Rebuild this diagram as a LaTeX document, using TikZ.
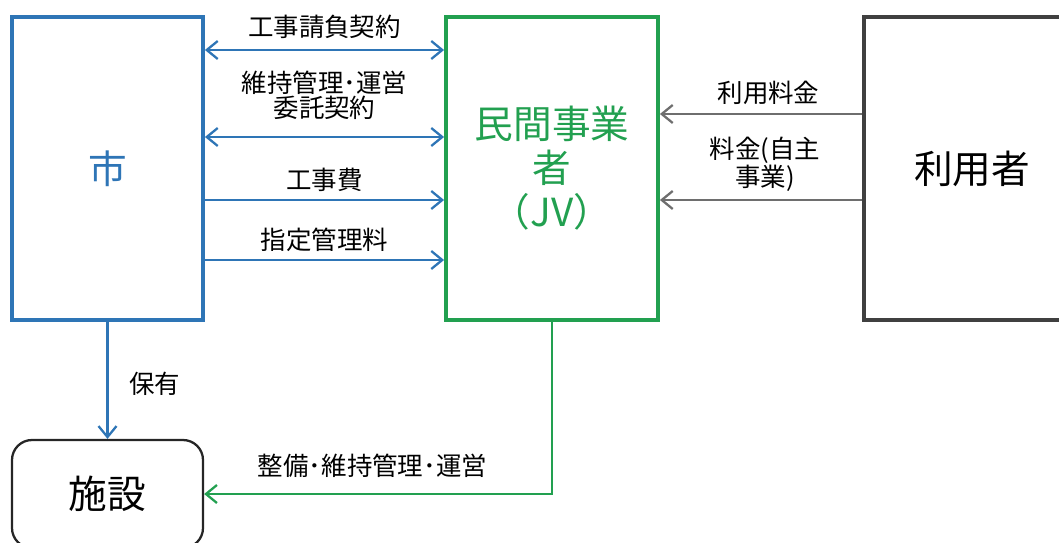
\documentclass[tikz,border=0pt]{standalone}
\usepackage{fontspec}
\setmainfont{Noto Sans CJK JP}
\usepackage{xcolor}
\usetikzlibrary{arrows.meta,positioning,calc}
\definecolor{cityblue}{RGB}{46,117,182}
\definecolor{jvgreen}{RGB}{34,160,80}
\definecolor{usergray}{RGB}{64,64,64}
\definecolor{arrgray}{RGB}{110,110,110}
\newcommand\bigtxt{\fontsize{22pt}{25pt}\selectfont}
\newcommand\labtxt{\fontsize{14.5pt}{14.3pt}\selectfont}
\tikzset{
  partybox/.style={draw,line width=2.2pt,minimum height=6.06cm,inner sep=0pt,align=center,font=\bigtxt},
  facbox/.style={draw=black!85,line width=1.3pt,rounded corners=0.4cm,minimum width=3.82cm,minimum height=2.16cm,font=\bigtxt},
  arB/.style={cityblue,line width=1.3pt,arrows={-Straight Barb[length=2.2mm,width=3.6mm]}},
  arG/.style={jvgreen,line width=1.3pt,arrows={-Straight Barb[length=2.2mm,width=3.6mm]}},
  arK/.style={arrgray,line width=1.3pt,arrows={-Straight Barb[length=2.2mm,width=3.6mm]}},
  both/.style={arrows={Straight Barb[length=2.2mm,width=3.6mm]-Straight Barb[length=2.2mm,width=3.6mm]}},
  tlab/.style={font=\labtxt,text=black,align=center,inner sep=0pt},
}
\begin{document}
\begin{tikzpicture}
  \useasboundingbox (0,0) rectangle (21.18,10.84);
  \clip (0,0) rectangle (21.18,10.84);
  % three parties
  \node[partybox,draw=cityblue,text=cityblue,minimum width=3.82cm] (city) at (2.15,7.47) {市};
  \node[partybox,draw=jvgreen,text=jvgreen,minimum width=4.24cm] (jv) at (11.04,7.47) {民間事業\\者\\（JV）};
  \node[partybox,draw=usergray,text=black,minimum width=4.32cm] (user) at (19.44,7.47) {利用者};
  \node[facbox] (fac) at (2.15,0.96) {施設};
  % city <-> JV
  \draw[arB,both] ([yshift=2.37cm]city.east) -- node[tlab,yshift=0.46cm]{工事請負契約} ([yshift=2.37cm]jv.west);
  \draw[arB,both] ([yshift=0.63cm]city.east) -- node[tlab,yshift=0.83cm]{維持管理･運営\\委託契約} ([yshift=0.63cm]jv.west);
  \draw[arB] ([yshift=-0.63cm]city.east) -- node[tlab,yshift=0.40cm]{工事費} ([yshift=-0.63cm]jv.west);
  \draw[arB] ([yshift=-1.83cm]city.east) -- node[tlab,yshift=0.40cm]{指定管理料} ([yshift=-1.83cm]jv.west);
  % user -> JV
  \draw[arK] ([yshift=1.09cm]user.west) -- node[tlab,yshift=0.42cm,xshift=0.15cm]{利用料金} ([yshift=1.09cm]jv.east);
  \draw[arK] ([yshift=-0.63cm]user.west) -- node[tlab,yshift=0.72cm,xshift=0.08cm]{料金(自主\\事業)} ([yshift=-0.63cm]jv.east);
  % facility
  \draw[arB] (city.south) -- node[tlab,xshift=0.94cm,yshift=-0.06cm]{保有} (fac.north);
  \draw[arG] (jv.south) |- node[tlab,pos=0.758,yshift=0.56cm]{整備･維持管理･運営} (fac.east);
\end{tikzpicture}
\end{document}
